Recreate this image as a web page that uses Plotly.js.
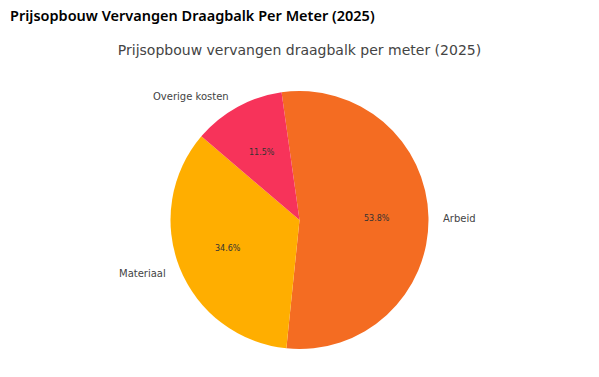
<!DOCTYPE html>
<html>
<head>
<meta charset="utf-8">
<script src="https://cdn.plot.ly/plotly-3.0.1.min.js"></script>
<style>html,body{margin:0;padding:0;background:#fff;}#chart{width:599px;height:377px;}</style>
</head>
<body>
<div id="chart"></div>
<script>
const categories = ["Arbeid", "Materiaal", "Overige kosten"];
const values = [70, 45, 15];
const colors = ["#F46C22", "#FFAE00", "#F7335A"];
const header = "Prijsopbouw Vervangen Draagbalk Per Meter (2025)";
const chartTitle = "Prijsopbouw vervangen draagbalk per meter (2025)";

const W = 599, H = 377;
const margin = {l: 0, r: 0, t: 91, b: 28};
const rotation = -8;
const plotW = W - margin.l - margin.r;
const plotH = H - margin.t - margin.b;
const R = Math.min(plotW, plotH) / 2;

const total = values.reduce((a, b) => a + b, 0);
const annotations = [];
let start = 90 - rotation;
values.forEach((v, i) => {
  const sweep = v / total * 360;
  const mid = (start - sweep / 2) * Math.PI / 180;
  const cx = Math.cos(mid), cy = Math.sin(mid);
  annotations.push({
    xref: "paper", yref: "paper",
    x: 0.5 + 0.6 * R * cx / plotW, y: 0.5 + 0.6 * R * cy / plotH,
    text: (v / total * 100).toFixed(1) + "%", showarrow: false,
    xanchor: "center", yanchor: "middle",
    font: {family: "DejaVu Sans", size: 8, color: "#333333"}
  });
  annotations.push({
    xref: "paper", yref: "paper",
    x: 0.5 + 1.1 * R * cx / plotW, y: 0.5 + 1.1 * R * cy / plotH - 1 / plotH,
    text: categories[i], showarrow: false,
    xanchor: cx > 0 ? "left" : "right", yanchor: "middle",
    font: {family: "DejaVu Sans", size: 10, color: "#444444"}
  });
  start -= sweep;
});

annotations.push({
  xref: "paper", yref: "paper",
  x: 8 / W, y: 1 + (margin.t - 15) / plotH,
  text: header, showarrow: false,
  xanchor: "left", yanchor: "middle",
  font: {family: "Noto Sans", size: 14.5, weight: 600, color: "#000000"}
});

const trace = {
  type: "pie",
  labels: categories,
  values: values,
  marker: {colors: colors, line: {width: 0}},
  sort: false,
  direction: "clockwise",
  rotation: rotation,
  textinfo: "none",
  hoverinfo: "label+percent",
  showlegend: false
};

const layout = {
  width: W, height: H,
  margin: margin,
  paper_bgcolor: "#ffffff",
  plot_bgcolor: "#ffffff",
  title: {
    text: chartTitle,
    x: 0.5, xanchor: "center",
    y: 1 - 50 / H, yref: "container", yanchor: "middle",
    font: {family: "DejaVu Sans", size: 14, color: "#444444"}
  },
  annotations: annotations,
  showlegend: false
};

Plotly.newPlot("chart", [trace], layout, {displayModeBar: false, staticPlot: true});
</script>
</body>
</html>
